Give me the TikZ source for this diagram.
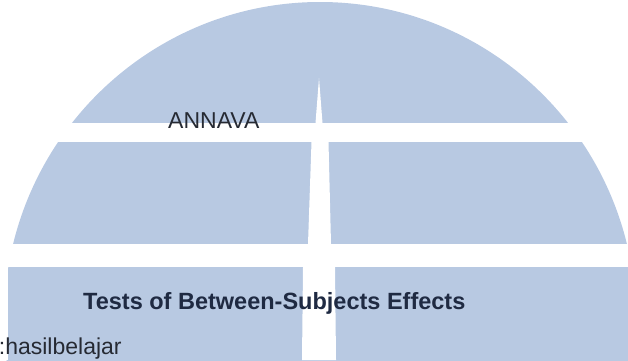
\documentclass[tikz,border=0pt]{standalone}
\usepackage{fontspec}
\setmainfont{Liberation Sans}
\definecolor{panel}{RGB}{184,201,226}
\definecolor{txtdark}{RGB}{38,42,51}
\definecolor{txtnavy}{RGB}{31,42,66}
\begin{document}
\begin{tikzpicture}[x=1pt,y=1pt,
  lbl/.style={inner sep=0pt, anchor=base west, text=txtdark, font=\fontsize{23}{27}\selectfont},
  gap/.style={fill=white}]
\useasboundingbox (0,0) rectangle (628,360);
\begin{scope}
  \clip (0,0) rectangle (628,360);
  \fill[panel] (320,40) ellipse [x radius=316, y radius=318];
  % horizontal white bands
  \fill[gap] (0,218) rectangle (628,237);
  \fill[gap] (0,93) rectangle (628,116);
  \fill[gap] (0,0) rectangle (8,93);
  % vertical white gaps
  \fill[gap] (319,282) -- (322.5,237) -- (315.5,237) -- cycle;
  \fill[gap] (311.5,218) -- (328.5,218) -- (331,116) -- (308,116) -- cycle;
  \fill[gap] (303,93) -- (335,93) -- (336,0) -- (302,0) -- cycle;
\end{scope}
\node[lbl] (annava) at (168,232) {ANNAVA};
\node[lbl, text=txtnavy, font=\bfseries\fontsize{23.5}{28}\selectfont] (tests) at (83,51) {Tests of Between-Subjects Effects};
\node[lbl] (dv) at (-1.3,5.2) {:hasilbelajar};
\end{tikzpicture}
\end{document}
